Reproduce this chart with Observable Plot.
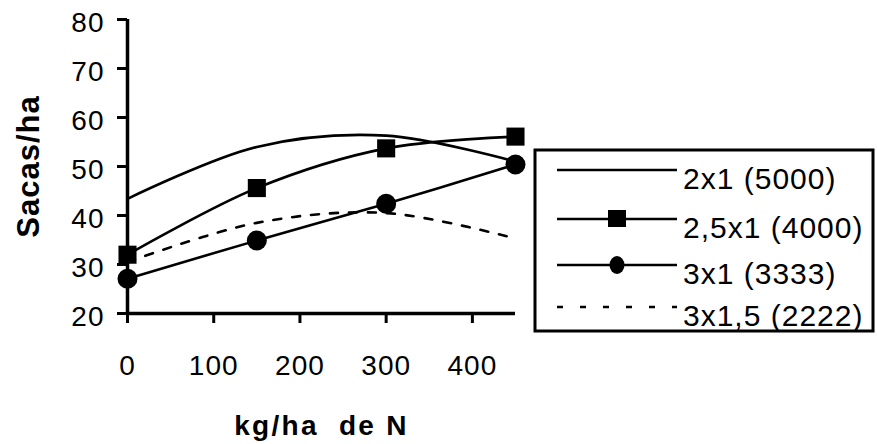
<!DOCTYPE html>
<html>
<head>
<meta charset="utf-8">
<script src="https://cdn.jsdelivr.net/npm/d3@7"></script>
<script src="https://cdn.jsdelivr.net/npm/@observablehq/plot@0.6"></script>
<style>
  html, body { margin: 0; padding: 0; background: #fff; }
  #wrap { position: relative; width: 877px; height: 444px; font-family: "Liberation Sans", Arial, sans-serif; }
  #legend { position: absolute; left: 0; top: 0; }
</style>
</head>
<body>
<div id="wrap"></div>
<script>
// ---- data ----
const doses = [0, 150, 300, 450];
const s2x1 = [43.4, 54.0, 56.3, 51.0];
const s25x1 = [32.0, 45.6, 53.7, 56.1];
const s3x1 = [27.1, 34.9, 42.4, 50.4];
const s3x15 = [30.5, 38.5, 40.5, 35.3];
const seriesNames = ["2x1 (5000)", "2,5x1 (4000)", "3x1 (3333)", "3x1,5 (2222)"];
const xTicks = [0, 100, 200, 300, 400];
const yTicks = [20, 30, 40, 50, 60, 70, 80];
const xTitle = "kg/ha  de N";
const yTitle = "Sacas/ha";

const rows = (vals, name) => doses.map((d, i) => ({dose: d, value: vals[i], series: name}));
const d1 = rows(s2x1, seriesNames[0]);
const d2 = rows(s25x1, seriesNames[1]);
const d3s = rows(s3x1, seriesNames[2]);
const d4 = rows(s3x15, seriesNames[3]);

const lw = 2.6;
const chart = Plot.plot({
  width: 877,
  height: 444,
  marginLeft: 127,
  marginRight: 362,
  marginTop: 19,
  marginBottom: 131,
  style: {fontFamily: "'Liberation Sans', Arial, sans-serif", fontSize: "28px", color: "#000", background: "#fff", letterSpacing: "1px"},
  x: {domain: [0, 450], ticks: xTicks, tickSize: 10, tickPadding: 32, label: null, tickFormat: d => String(d)},
  y: {domain: [20, 80], ticks: yTicks, tickSize: 10, tickPadding: 13, label: null, tickFormat: d => String(d)},
  marks: [
    Plot.ruleX([0], {y1: 20, y2: 80, stroke: "#000", strokeWidth: 3.5}),
    Plot.ruleY([20], {x1: 0, x2: 450, stroke: "#000", strokeWidth: 3.5}),
    Plot.line(d1, {x: "dose", y: "value", stroke: "#000", strokeWidth: lw, curve: "catmull-rom"}),
    Plot.line(d2, {x: "dose", y: "value", stroke: "#000", strokeWidth: lw, curve: "catmull-rom"}),
    Plot.line(d3s, {x: "dose", y: "value", stroke: "#000", strokeWidth: lw, curve: "catmull-rom"}),
    Plot.line(d4, {x: "dose", y: "value", stroke: "#000", strokeWidth: lw, strokeDasharray: "8,11", curve: "catmull-rom"}),
    Plot.dot(d2, {x: "dose", y: "value", symbol: "square", r: 10.2, fill: "#000", stroke: "none"}),
    Plot.dot(d3s, {x: "dose", y: "value", symbol: "circle", r: 10, fill: "#000", stroke: "none"}),
    Plot.text([yTitle], {frameAnchor: "left", dx: -98, rotate: -90, textAnchor: "middle", lineAnchor: "middle", fontSize: 31, fontWeight: "bold", fill: "#000"}),
    Plot.text([xTitle], {frameAnchor: "bottom", dy: 113, lineAnchor: "middle", fontSize: 28, fontWeight: "bold", fill: "#000", letterSpacing: "2.3px"})
  ]
});
document.getElementById("wrap").appendChild(chart);

// axis styling: thicker ticks, labels nudged down like the reference
const sel = d3.select(chart);
sel.selectAll('g[aria-label="y-axis tick"], g[aria-label="x-axis tick"]').attr("stroke-width", 3);
sel.selectAll('g[aria-label="y-axis tick label"]').each(function() {
  const t = this.getAttribute("transform") || "";
  this.setAttribute("transform", (t + " translate(0,4)").trim());
});
sel.selectAll('g[aria-label="text"]').filter(function() { return this.textContent.indexOf("kg/ha") >= 0; })
  .attr("letter-spacing", "2.3px");

// ---- legend ----
const legend = d3.select("#wrap").append("svg")
  .attr("id", "legend").attr("width", 877).attr("height", 444)
  .style("font-family", "'Liberation Sans', Arial, sans-serif");
legend.append("rect")
  .attr("x", 535).attr("y", 150).attr("width", 338).attr("height", 181)
  .attr("fill", "#fff").attr("stroke", "#000").attr("stroke-width", 3);
const rowY = [170, 219, 265, 307];
seriesNames.forEach((name, i) => {
  const g = legend.append("g");
  g.append("line").attr("x1", 557).attr("x2", 677).attr("y1", rowY[i]).attr("y2", rowY[i])
    .attr("stroke", "#000").attr("stroke-width", lw)
    .attr("stroke-dasharray", i === 3 ? "6,17" : null);
  if (i === 1) g.append("rect").attr("x", 617 - 9).attr("y", rowY[i] - 9).attr("width", 18).attr("height", 17).attr("fill", "#000");
  if (i === 2) g.append("ellipse").attr("cx", 617).attr("cy", rowY[i]).attr("rx", 7.5).attr("ry", 9).attr("fill", "#000");
  g.append("text").attr("x", 683).attr("y", rowY[i] + 19)
    .attr("font-size", 30).attr("letter-spacing", "1px").attr("fill", "#000").text(name);
});
</script>
</body>
</html>
